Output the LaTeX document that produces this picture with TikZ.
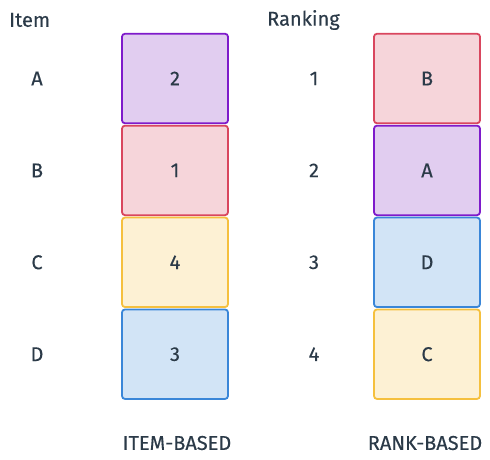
\documentclass[tikz,border=0pt]{standalone}
\usepackage{fontspec}
\setmainfont{Fira Sans}[FakeBold=0.3]
\usepackage{tikz}
\usetikzlibrary{positioning}

\definecolor{txt}{HTML}{2B3A48}
\definecolor{purpleline}{HTML}{7E1ACB}
\definecolor{purplefill}{HTML}{E1CDF0}
\definecolor{redline}{HTML}{D9465E}
\definecolor{redfill}{HTML}{F6D5DA}
\definecolor{yellowline}{HTML}{F5C03E}
\definecolor{yellowfill}{HTML}{FDF1D4}
\definecolor{blueline}{HTML}{3A86D8}
\definecolor{bluefill}{HTML}{D2E4F6}

\begin{document}
\begin{tikzpicture}
                [x=1pt,y=-1pt,node distance=0.6pt,
                every node/.style={text=txt,font=\fontsize{20}{24}\selectfont},
                box/.style={draw,rounded corners=3pt,line width=1.8pt,minimum width=106pt,minimum height=89.5pt,inner sep=0pt},
                lab/.style={inner sep=0pt}]
                \useasboundingbox (0,0) rectangle (490,459);
                % headers
                \node[lab,anchor=west] (item) at (9,20){Item};
                \node[lab,anchor=west] (ranking) at (267,20){Ranking};
                % item-based column
                \node[box,draw=purpleline,fill=purplefill] (a) at (175,78.5){2};
                \node[box,draw=redline,fill=redfill] (b)[below=of a]{1};
                \node[box,draw=yellowline,fill=yellowfill] (c)[below=of b]{4};
                \node[box,draw=blueline,fill=bluefill] (d)[below=of c]{3};
                % rank-based column
                \node[box,draw=redline,fill=redfill] (r1) at (427,78.5){B};
                \node[box,draw=purpleline,fill=purplefill] (r2)[below=of r1]{A};
                \node[box,draw=blueline,fill=bluefill] (r3)[below=of r2]{D};
                \node[box,draw=yellowline,fill=yellowfill] (r4)[below=of r3]{C};
                % row labels
                \node[lab] (texta) at (37,0 |- a){A};
                \node[lab] (textb) at (37,0 |- b){B};
                \node[lab] (textc) at (37,0 |- c){C};
                \node[lab] (textd) at (37,0 |- d){D};
                \node[lab] (text1) at (314,0 |- r1){1};
                \node[lab] (text2) at (314,0 |- r2){2};
                \node[lab] (text3) at (314,0 |- r3){3};
                \node[lab] (text4) at (314,0 |- r4){4};
                % captions
                \node[lab] (itembased) at (177,443){ITEM-BASED};
                \node[lab] (rankbased) at (425,443){RANK-BASED};
            \end{tikzpicture}
\end{document}
